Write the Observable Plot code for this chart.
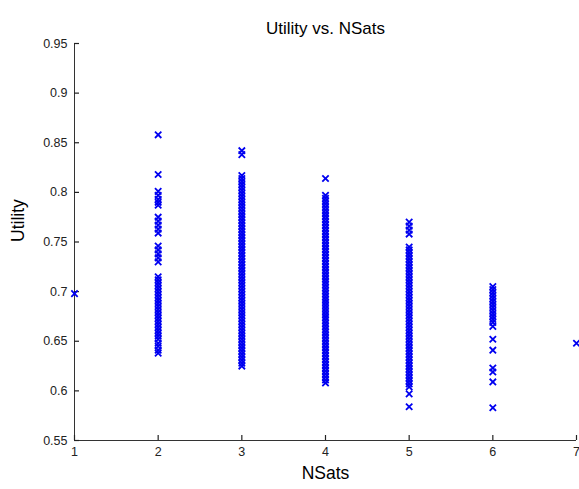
<!DOCTYPE html>
<html><head><meta charset="utf-8">
<script src="https://cdn.jsdelivr.net/npm/d3@7"></script>
<script src="https://cdn.jsdelivr.net/npm/@observablehq/plot@0.6"></script>
<style>body{margin:0;background:#fff} svg{display:block}</style>
</head><body><div id="chart"></div>
<script>
const nsats = [1, 2, 3, 4, 5, 6, 7];
const u1 = [0.698];
const u2 = [0.858, 0.818, 0.801, 0.797, 0.793, 0.790, 0.787, 0.775, 0.771, 0.767, 0.763, 0.759,
  0.746, 0.742, 0.738, 0.734, 0.730, 0.715, 0.712, 0.709, 0.706, 0.703, 0.700, 0.697, 0.694,
  0.691, 0.688, 0.685, 0.682, 0.679, 0.676, 0.673, 0.670, 0.667, 0.664, 0.661, 0.658, 0.655,
  0.652, 0.648, 0.645, 0.641, 0.638];
const u3 = [0.842, 0.838, 0.817, 0.814, 0.811, 0.808, 0.805, 0.802, 0.799, 0.796, 0.793, 0.790,
  0.787, 0.784, 0.781, 0.778, 0.775, 0.772, 0.769, 0.766, 0.763, 0.760, 0.757, 0.754, 0.751,
  0.748, 0.745, 0.742, 0.739, 0.736, 0.733, 0.730, 0.727, 0.724, 0.721, 0.718, 0.715, 0.712,
  0.709, 0.706, 0.703, 0.700, 0.697, 0.694, 0.691, 0.688, 0.685, 0.682, 0.679, 0.676, 0.673,
  0.670, 0.667, 0.664, 0.661, 0.658, 0.655, 0.652, 0.649, 0.646, 0.643, 0.640, 0.637, 0.634,
  0.631, 0.628, 0.625];
const u4 = [0.814, 0.797, 0.794, 0.791, 0.788, 0.785, 0.782, 0.779, 0.776, 0.773, 0.770, 0.767,
  0.764, 0.761, 0.758, 0.755, 0.752, 0.749, 0.746, 0.743, 0.740, 0.737, 0.734, 0.731, 0.728,
  0.725, 0.722, 0.719, 0.716, 0.713, 0.710, 0.707, 0.704, 0.701, 0.698, 0.695, 0.692, 0.689,
  0.686, 0.683, 0.680, 0.677, 0.674, 0.671, 0.668, 0.665, 0.662, 0.659, 0.656, 0.653, 0.650,
  0.647, 0.644, 0.641, 0.638, 0.635, 0.632, 0.629, 0.626, 0.623, 0.620, 0.617, 0.614, 0.611,
  0.608];
const u5 = [0.770, 0.766, 0.762, 0.758, 0.745, 0.742, 0.739, 0.736, 0.733, 0.730, 0.727, 0.724,
  0.721, 0.718, 0.715, 0.712, 0.709, 0.706, 0.703, 0.700, 0.697, 0.694, 0.691, 0.688, 0.685,
  0.682, 0.679, 0.676, 0.673, 0.670, 0.667, 0.664, 0.661, 0.658, 0.655, 0.652, 0.649, 0.646,
  0.643, 0.640, 0.637, 0.634, 0.631, 0.628, 0.625, 0.622, 0.619, 0.616, 0.613, 0.610, 0.607,
  0.604, 0.597, 0.584];
const u6 = [0.705, 0.702, 0.699, 0.696, 0.693, 0.690, 0.687, 0.684, 0.681, 0.678, 0.675, 0.672,
  0.669, 0.665, 0.652, 0.641, 0.623, 0.619, 0.609, 0.583];
const u7 = [0.648];
const xTicks = [1, 2, 3, 4, 5, 6, 7];
const yTicks = [0.55, 0.6, 0.65, 0.7, 0.75, 0.8, 0.85, 0.9, 0.95];
const title = "Utility vs. NSats";
const xLabel = "NSats";
const yLabel = "Utility";

const columns = [u1, u2, u3, u4, u5, u6, u7];
const data = columns.flatMap((arr, i) => arr.map(u => ({nsats: nsats[i], utility: u})));
const fmt = d => String(+d.toFixed(2));

const W = 579, H = 489, ML = 74, MR = 3, MT = 43, MB = 49, TICK = 5;
const chart = Plot.plot({
  width: W, height: H,
  marginLeft: ML, marginRight: MR, marginTop: MT, marginBottom: MB,
  style: {fontFamily: "'Liberation Sans', Arial, sans-serif", background: "#fff", color: "#222"},
  x: {domain: [1, 7]},
  y: {domain: [0.55, 0.95]},
  marks: [
    Plot.ruleX([1], {stroke: "#333"}),
    Plot.ruleY([0.55], {stroke: "#333"}),
    // inward tick marks (short rules at the frame edge)
    Plot.ruleX(xTicks, {stroke: "#222", strokeWidth: 1.2, insetTop: H - MT - MB - TICK}),
    Plot.ruleY(yTicks, {stroke: "#222", strokeWidth: 1.2, insetRight: W - ML - MR - TICK}),
    // tick labels
    Plot.axisX({ticks: xTicks, tickSize: 0, tickPadding: 7, tickFormat: d => String(d), label: null, fontSize: 12.5}),
    Plot.axisY({ticks: yTicks, tickSize: 0, tickPadding: 7, tickFormat: fmt, label: null, fontSize: 12.5}),
    Plot.dot(data, {x: "nsats", y: "utility", symbol: "times", stroke: "#0000f0", r: 3, strokeWidth: 1.8}),
    Plot.text([title], {frameAnchor: "top", dy: -22, fontSize: 17, fill: "#000"}),
    Plot.text([xLabel], {frameAnchor: "bottom", dy: 38, fontSize: 17.5, fill: "#000"}),
    Plot.text([yLabel], {frameAnchor: "left", dx: -56, rotate: -90, fontSize: 17.5, fill: "#000"})
  ]
});
document.getElementById("chart").append(chart);
</script>
</body></html>
